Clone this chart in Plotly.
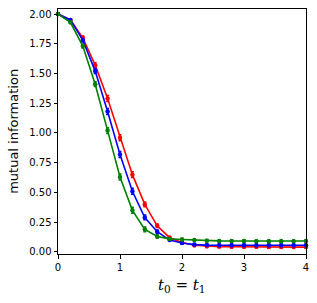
import plotly.graph_objects as go

x = [0.0, 0.2, 0.4, 0.6, 0.8, 1.0, 1.2, 1.4, 1.6, 1.8, 2.0, 2.2, 2.4, 2.6, 2.8, 3.0, 3.2, 3.4, 3.6, 3.8, 4.0]
red = [2.00, 1.95, 1.80, 1.57, 1.29, 0.96, 0.65, 0.40, 0.22, 0.12, 0.08, 0.057, 0.048, 0.045, 0.044, 0.043, 0.043, 0.042, 0.041, 0.041, 0.041]
blue = [2.00, 1.95, 1.78, 1.52, 1.18, 0.82, 0.51, 0.29, 0.17, 0.10, 0.075, 0.062, 0.058, 0.057, 0.057, 0.056, 0.056, 0.056, 0.056, 0.056, 0.056]
green = [2.00, 1.93, 1.73, 1.41, 1.02, 0.63, 0.35, 0.19, 0.13, 0.11, 0.105, 0.10, 0.095, 0.093, 0.092, 0.092, 0.091, 0.090, 0.090, 0.091, 0.092]
err = [0.005, 0.01, 0.015, 0.02, 0.025, 0.025, 0.025, 0.02, 0.015, 0.01, 0.01, 0.01, 0.01, 0.01, 0.01, 0.01, 0.01, 0.01, 0.01, 0.01, 0.01]

x_title = "<i>t</i><sub>0</sub> = <i>t</i><sub>1</sub>"
y_title = "mutual information"

series = [("red", red, "#ff0000"), ("blue", blue, "#0000ff"), ("green", green, "#008000")]

fig = go.Figure()
for name, ys, col in series:
    fig.add_trace(go.Scatter(
        x=x, y=ys, mode="lines+markers", name=name,
        line=dict(color=col, width=1.6),
        marker=dict(color=col, size=4.5),
        error_y=dict(type="data", array=err, color=col, thickness=1.5, width=1.5),
        showlegend=False, cliponaxis=False,
    ))

fig.update_layout(
    width=317, height=303,
    margin=dict(l=58, r=11, t=9, b=49),
    paper_bgcolor="white", plot_bgcolor="white",
    font=dict(family="DejaVu Sans", size=10, color="black"),
    annotations=[
        dict(text=x_title, xref="paper", yref="paper", x=0.5, y=-0.08, xanchor="center", yanchor="top",
             showarrow=False, font=dict(size=15, family="DejaVu Serif")),
        dict(text=y_title, xref="paper", yref="paper", x=-0.18, y=0.5, xanchor="center", yanchor="middle",
             textangle=-90, showarrow=False, font=dict(size=13)),
    ],
)
fig.update_xaxes(
    range=[0, 4], tickvals=[0, 1, 2, 3, 4], ticktext=["0", "1", "2", "3", "4"],
    ticks="outside", ticklen=3.5, tickwidth=0.8, tickcolor="black", automargin=False,
    showline=True, linecolor="black", linewidth=1, mirror=True, showgrid=False, zeroline=False,
)
fig.update_yaxes(
    range=[-0.017, 2.042], tickvals=[0, 0.25, 0.5, 0.75, 1.0, 1.25, 1.5, 1.75, 2.0], tickformat=".2f",
    ticks="outside", ticklen=3.5, tickwidth=0.8, tickcolor="black", automargin=False,
    showline=True, linecolor="black", linewidth=1, mirror=True, showgrid=False, zeroline=False,
)

fig.write_html("out.html", config={"displayModeBar": False},
               post_script="document.body.style.margin='0';document.body.style.padding='0';")
